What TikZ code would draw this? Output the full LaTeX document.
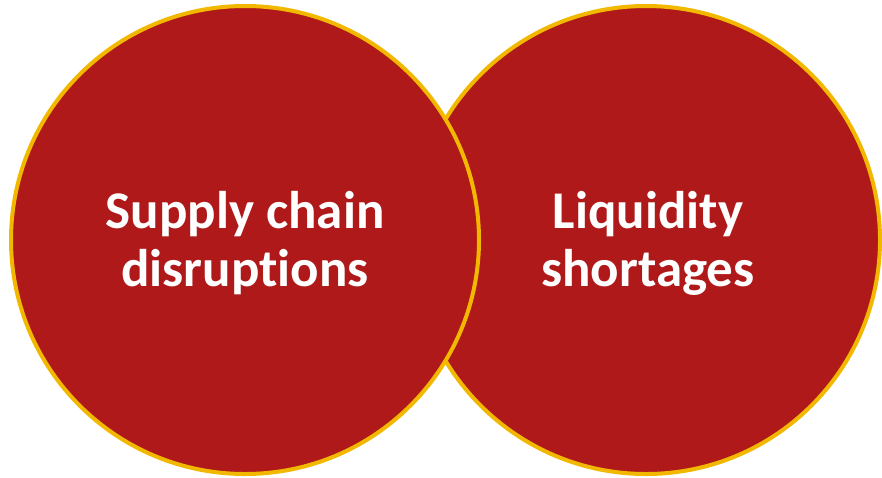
\documentclass[tikz,border=0pt]{standalone}
\usepackage{fontspec}
\setmainfont[Ligatures=NoCommon]{Carlito}
\definecolor{darkred}{RGB}{175,25,25}
\definecolor{gold}{RGB}{242,184,0}
\tikzset{
	bubble/.style={circle, fill=darkred, draw=gold, line width=4pt, minimum size=468pt, inner sep=0pt},
	label text/.style={text=white, align=center, font=\bfseries\fontsize{53}{58}\selectfont}
}
\begin{document}
\begin{tikzpicture}[x=1pt, y=-1pt]
	\useasboundingbox (0,0) rectangle (882,477);
	% right circle first, left one lies on top
	\node[bubble] (liquidity) at (646,240) {};
	\node[bubble] (supply) at (245,240) {};
	% texts
	\node[label text] (supplytext) at (245,243) {Supply chain\\disruptions};
	\node[label text] (liquiditytext) at (648,243) {Liquidity\\shortages};
\end{tikzpicture}
\end{document}
